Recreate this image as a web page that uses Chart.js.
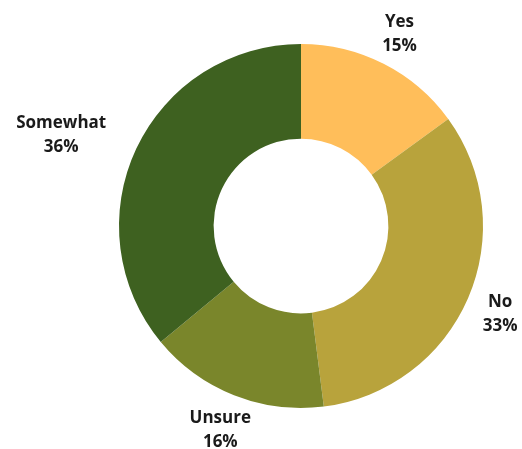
<!DOCTYPE html>
<html>
<head>
<meta charset="utf-8">
<script src="https://cdn.jsdelivr.net/npm/chart.js@4"></script>
<style>
  html, body { margin: 0; padding: 0; background: #fff; }
  #wrap { width: 522px; height: 449px; }
</style>
</head>
<body>
<div id="wrap"><canvas id="myChart" width="522" height="449"></canvas></div>
<script>
const categories = ['Yes', 'No', 'Unsure', 'Somewhat'];
const percents = [15, 33, 16, 36];
const colors = ['#FFBE5A', '#B8A33C', '#7A862B', '#3E6120'];

// labels outside the ring, name on top and percent below
const outerLabels = {
    id: 'outerLabels',
    afterDatasetsDraw(chart) {
        const ctx = chart.ctx;
        const meta = chart.getDatasetMeta(0);
        ctx.save();
        ctx.font = 'bold 17px "Open Sans"';
        ctx.fillStyle = '#1a1a1a';
        ctx.textAlign = 'center';
        ctx.textBaseline = 'middle';
        meta.data.forEach((arc, i) => {
            const mid = (arc.startAngle + arc.endAngle) / 2;
            const dx = Math.cos(mid), dy = Math.sin(mid);
            const r = arc.outerRadius + 35;
            const halfW = Math.max(ctx.measureText(categories[i]).width,
                                   ctx.measureText(percents[i] + '%').width) / 2;
            // push wide labels further out so they clear the ring
            const x = arc.x + r * dx + dx * Math.max(0, halfW - 30) * 3.2;
            const y = arc.y + r * dy + 2;
            ctx.fillText(categories[i], x, y - 12);
            ctx.fillText(percents[i] + '%', x, y + 12);
        });
        ctx.restore();
    }
};

const data = {
    labels: categories,
    datasets: [{
        data: percents,
        backgroundColor: colors,
        borderWidth: 0
    }]
};

const config = {
    type: 'doughnut',
    data,
    options: {
        responsive: false,
        animation: false,
        cutout: '48%',
        layout: {
            padding: { top: 44, bottom: 41, left: 119, right: 39 }
        },
        plugins: {
            legend: { display: false },
            tooltip: { enabled: false }
        }
    },
    plugins: [outerLabels]
};

const myChart = new Chart(document.getElementById('myChart'), config);
</script>
</body>
</html>
